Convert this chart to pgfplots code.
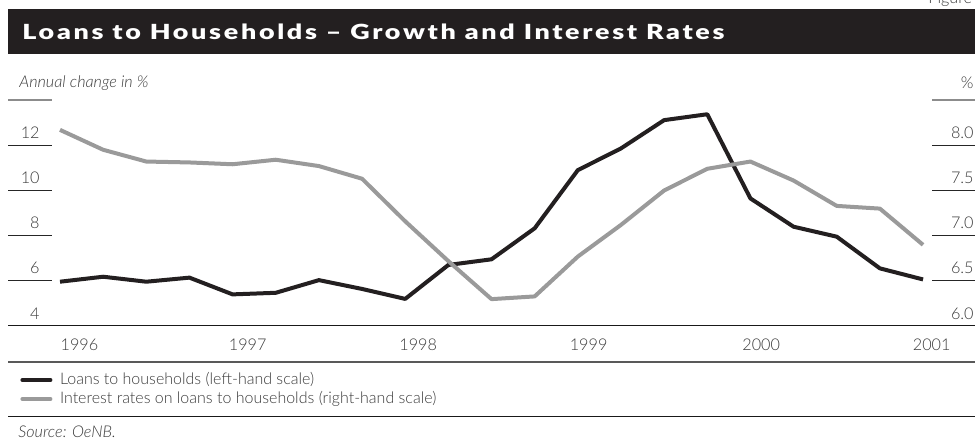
\documentclass[border=0pt]{standalone}
\usepackage{pgfplots}
\pgfplotsset{compat=1.18}
\usepackage{graphicx}
\usepackage{fontspec}
\setmainfont{Lato}[UprightFont=* Light, ItalicFont=* Light Italic, BoldFont=* Black]
\newfontfamily\titlefont{Lato Black}[LetterSpace=10]
\definecolor{barbg}{HTML}{231F20}
\definecolor{txt}{HTML}{3A3A3A}
\definecolor{ser1}{HTML}{231F20}
\definecolor{ser2}{HTML}{9A9A9A}
\begin{document}
\begin{tikzpicture}[font=\fontsize{8.1}{9.5}\selectfont,text=txt]
\useasboundingbox (0,0) rectangle (487.5pt,221pt);
\begin{scope}[x=0.5pt,y=-0.5pt,shift={(0pt,221pt)}]
% title bar
\fill[barbg] (8,9) rectangle (975,54);
\node[anchor=west,text=white,inner sep=0pt] at (22,32) {\resizebox{351pt}{\height}{\titlefont\fontsize{10.4}{12}\selectfont Loans to Households – Growth and Interest Rates}};
\node[anchor=base west,inner sep=0pt] at (928,4) {Figure 3};
% axis annotations
\node[anchor=west,inner sep=0pt] at (19,83) {\itshape Annual change in \%};
\node[anchor=east,inner sep=0pt] at (974,83) {\%};
\draw[line width=1pt,color=black!45] (8,100) -- (52,100);
\draw[line width=1pt,color=black!45] (932,100) -- (975,100);
\foreach \yy in {145.3,190.6,235.7,281.0} {
  \draw[line width=0.5pt,color=black!85] (8,\yy) -- (52,\yy);
  \draw[line width=0.5pt,color=black!85] (932,\yy) -- (975,\yy);
}
\foreach \yy/\lab in {145.3/12,190.6/10,235.7/8,281.0/6,326.3/4} {
  \node[anchor=east,inner sep=0pt] at (40,\yy-13) {\lab};
}
\foreach \yy/\lab in {145.3/8.0,190.6/7.5,235.7/7.0,281.0/6.5,326.3/6.0} {
  \node[anchor=east,inner sep=0pt] at (974,\yy-13) {\lab};
}
\draw[line width=0.6pt,color=black!90] (8,325.7) -- (975,325.7);
\draw[line width=1pt,color=black!65] (8,361.7) -- (975,361.7);
\draw[line width=0.5pt,color=black!90] (8,417) -- (975,417);
\node[anchor=west,inner sep=0pt] at (18,432) {\itshape Source: OeNB.};
\end{scope}

\begin{axis}[at={(30pt,57.85pt)},anchor=south west,scale only axis,
  width=442.3pt,height=113.15pt,xmin=0,xmax=20.5,ymin=4,ymax=14,
  axis x line*=bottom, axis y line=none, x axis line style={draw=none},
  clip=false,
  xtick={0.45,4.35,8.3,12.25,16.25,20.2},
  xticklabels={1996,1997,1998,1999,2000,2001},
  major tick length=0pt,
  xticklabel style={anchor=center,yshift=-9pt,font=\fontsize{8.1}{9.5}\selectfont,text=txt},
  legend style={at={(-0.0452,-0.195)},anchor=north west,draw=none,fill=none,
    inner sep=0pt,font=\fontsize{8.0}{9.5}\selectfont,text=txt,
    row sep=0.3pt,column sep=3pt,
    nodes={inner sep=0.8pt}},
  legend cell align=left,
  legend image code/.code={\draw[#1,line width=2pt,line cap=round] (0pt,0pt) -- (14pt,0pt);},
]
\addplot[ser1,line width=2pt,line join=round] coordinates {
(0,5.97)(1,6.19)(2,5.97)(3,6.15)(4,5.41)(5,5.48)(6,6.04)(7,5.65)(8,5.21)(9,6.71)
(10,6.96)(11,8.33)(12,10.9)(13,11.86)(14,13.11)(15,13.37)(16,9.65)(17,8.4)(18,7.96)(19,6.56)(20,6.07)};
\addlegendentry{Loans to households (left-hand scale)}
\addlegendimage{ser2,line width=2pt}
\addlegendentry{Interest rates on loans to households (right-hand scale)}
\end{axis}
\begin{axis}[at={(30pt,57.85pt)},anchor=south west,scale only axis,
  width=442.3pt,height=113.15pt,xmin=0,xmax=20.5,ymin=6,ymax=8.5,
  hide axis,clip=false]
\addplot[ser2,line width=2pt,line join=round] coordinates {
(0,8.17)(1,7.95)(2,7.82)(3,7.81)(4,7.79)(5,7.84)(6,7.77)(7,7.63)(8,7.16)(9,6.72)
(10,6.30)(11,6.33)(12,6.77)(13,7.12)(14,7.50)(15,7.74)(16,7.82)(17,7.61)(18,7.33)(19,7.30)(20,6.90)};
\end{axis}
\end{tikzpicture}
\end{document}
